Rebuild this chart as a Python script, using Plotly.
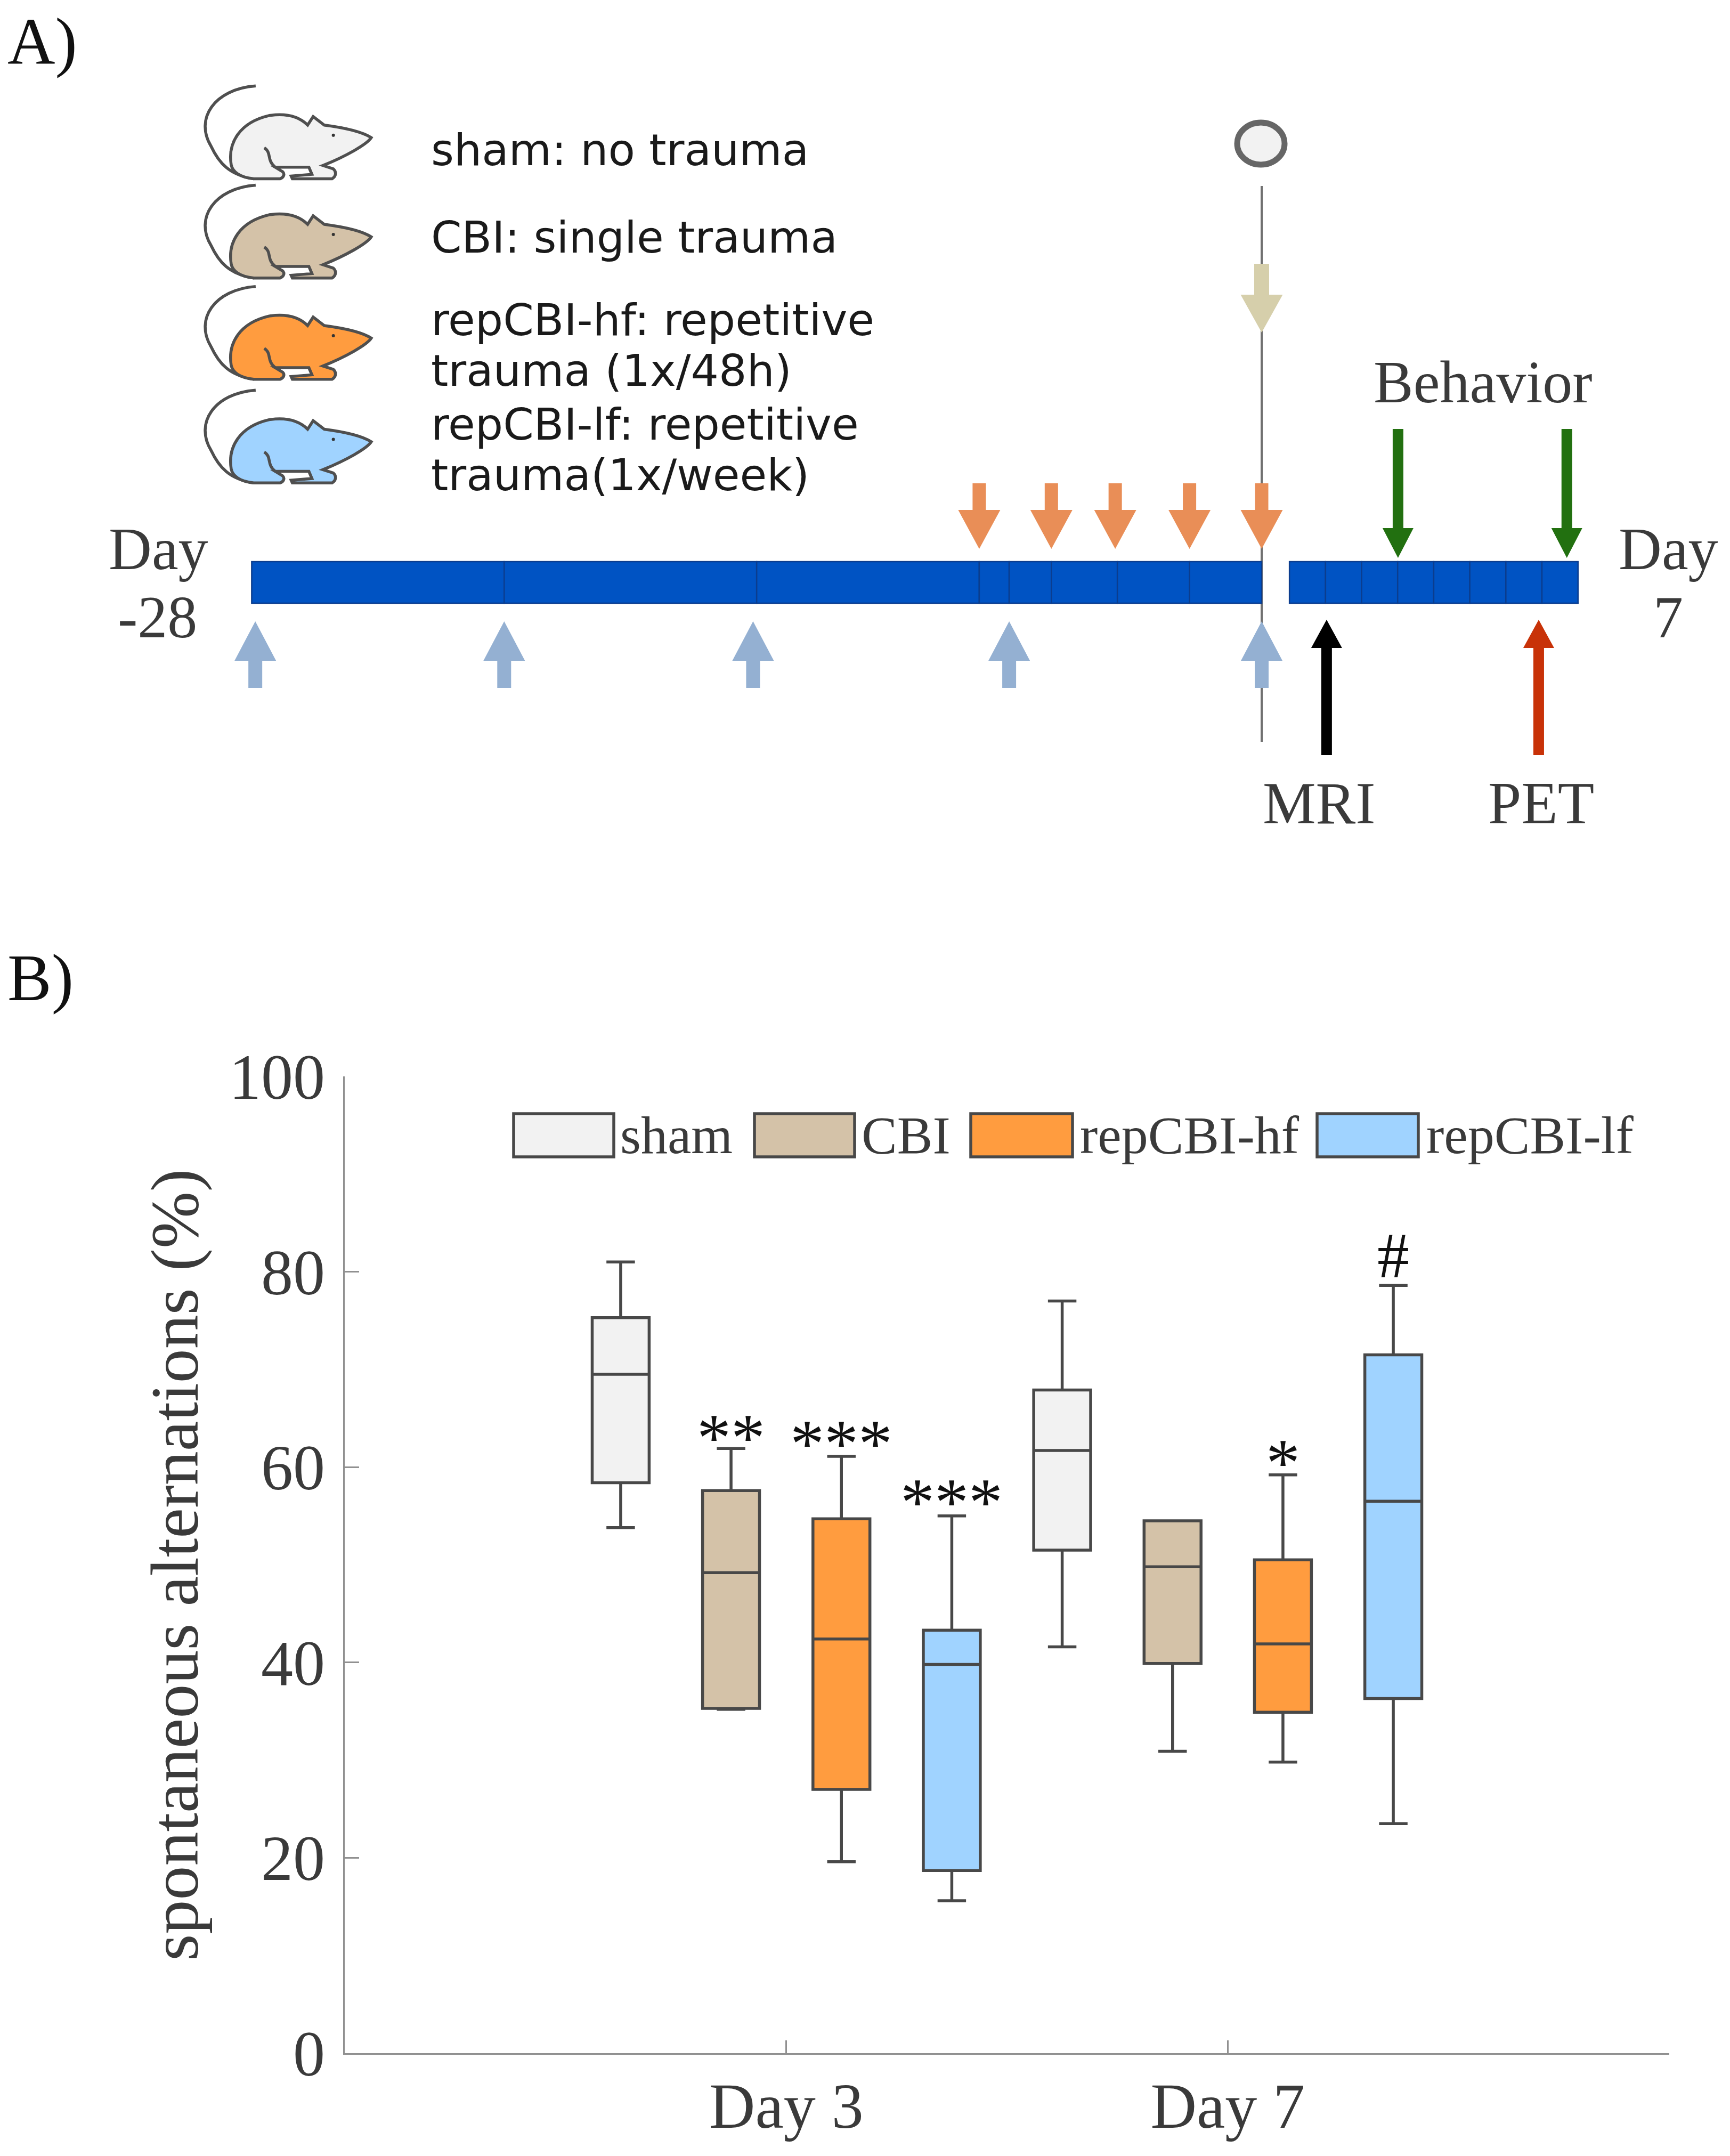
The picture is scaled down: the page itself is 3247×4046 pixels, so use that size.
import plotly.graph_objects as go

# ---------- Panel B data ----------
groups = ["sham", "CBI", "repCBI-hf", "repCBI-lf"]
colors = ["#f2f2f2", "#d4c2a8", "#ff9c3f", "#a0d3ff"]
day_labels = ["Day 3", "Day 7"]
whisker_high = {"sham": [81.0, 77.0], "CBI": [61.9, 54.5], "repCBI-hf": [61.1, 59.2], "repCBI-lf": [55.0, 78.6]}
q3_values = {"sham": [75.3, 67.9], "CBI": [57.6, 54.5], "repCBI-hf": [54.7, 50.5], "repCBI-lf": [43.3, 71.5]}
medians = {"sham": [69.5, 61.7], "CBI": [49.2, 49.8], "repCBI-hf": [42.4, 41.9], "repCBI-lf": [39.8, 56.5]}
q1_values = {"sham": [58.4, 51.5], "CBI": [35.3, 39.9], "repCBI-hf": [27.0, 34.9], "repCBI-lf": [18.7, 36.3]}
whisker_low = {"sham": [53.8, 41.6], "CBI": [35.2, 30.9], "repCBI-hf": [19.6, 29.8], "repCBI-lf": [15.6, 23.5]}
offsets = [-0.375, -0.125, 0.125, 0.375]

sig_labels = ["**", "***", "***", "*", "#"]
sig_x = [0.875, 1.125, 1.375, 2.125, 2.375]
sig_y = [63.9, 63.3, 57.3, 61.3, 81.2]

# ---------- Panel A timeline data (x in days, day 0 = trauma end) ----------
left_edges = [-28, -21, -14, -7.83, -7, -5.83, -4, -2, 0]
right_start = 0.77
right_days = 8
orange_days = [-7.83, -5.83, -4.06, -2.0, 0.0]
blue_days = [-27.9, -21, -14.1, -7, 0.0]
green_days = [3.78, 8.46]
mri_day = [1.8]
pet_day = [7.68]
beige_day = [0.0]

DARK = "#3a3a3a"
SERIF = "Liberation Serif"
SANS = "DejaVu Sans"

def X(px):
    return (px - 2368) / 67.7

fig = go.Figure()

# Panel B boxes
for g, c, in zip(groups, colors):
    i = groups.index(g)
    for d in range(2):
        fig.add_trace(go.Box(
            x=[d + 1 + offsets[i]], q1=[q1_values[g][d]], median=[medians[g][d]], q3=[q3_values[g][d]],
            lowerfence=[whisker_low[g][d]], upperfence=[whisker_high[g][d]],
            width=0.129, whiskerwidth=0.5, fillcolor=c, name=f"{g} {day_labels[d]}",
            line=dict(color="#484848", width=5.5), showlegend=False, boxpoints=False,
            xaxis="x", yaxis="y"))

# Panel A timeline bars
seg_start = left_edges[:-1] + [right_start + k for k in range(right_days)]
seg_len = [b - a for a, b in zip(left_edges[:-1], left_edges[1:])] + [1.0] * right_days
fig.add_trace(go.Bar(
    y=[1093] * len(seg_start), x=seg_len, base=seg_start, orientation="h", width=78,
    marker=dict(color="#0053c3", line=dict(color="#0b3d8e", width=2.5)),
    showlegend=False, xaxis="x2", yaxis="y2", name="timeline"))

shapes = []

def arrow(day, tail, tip, shaft, head, base, color):
    """Vertical block arrow; widths in px, y in image px."""
    s = shaft / 2 / 67.7
    h = head / 2 / 67.7
    path = (f"M {day-s} {tail} L {day+s} {tail} L {day+s} {base} L {day+h} {base} "
            f"L {day} {tip} L {day-h} {base} L {day-s} {base} Z")
    shapes.append(dict(type="path", path=path, fillcolor=color, line=dict(width=0), xref="x2", yref="y2", layer="above"))

# center line and circle
shapes.append(dict(type="line", x0=0, x1=0, y0=349, y1=1392, xref="x2", yref="y2",
                   line=dict(color="#707070", width=4), layer="below"))
shapes.append(dict(type="circle", x0=X(2322), x1=X(2411), y0=230, y1=309, xref="x2", yref="y2",
                   fillcolor="#f2f2f2", line=dict(color="#666666", width=11)))

for d in beige_day:
    arrow(d, 495, 624, 28, 79, 553, "#d6cfab")
for d in orange_days:
    arrow(d, 907, 1030, 25, 79, 957, "#e98e57")
for d in blue_days:
    arrow(d, 1291, 1166, 26, 78, 1240, "#94b0d2")
for d in green_days:
    arrow(d, 805, 1047, 20, 58, 991, "#227010")
for d in mri_day:
    arrow(d, 1417, 1163, 20, 58, 1216, "#000000")
for d in pet_day:
    arrow(d, 1417, 1163, 20, 58, 1216, "#c83208")

# Rats, outline traced in a zoomed frame (sx, sy turn it to image px)
sx, sy = 1800 / 1568, 1000 / 1568

def rat_paths(dy):
    def P(x, y):
        return f"{X(x*sx)} {(y+dy)*sy}"
    def path(seq):
        out = []
        for cmd, pts in seq:
            out.append(cmd + " " + " ".join(P(*p) for p in pts))
        return " ".join(out)
    body = path([
        ("M", [(378, 485)]),
        ("C", [(372, 420), (392, 360), (440, 340)]),
        ("C", [(470, 332), (490, 345), (503, 368)]),
        ("L", [(512, 343)]), ("L", [(530, 368)]),
        ("C", [(560, 375), (590, 385), (607, 405)]),
        ("C", [(600, 425), (565, 460), (528, 487)]),
        ("L", [(545, 497)]),
        ("C", [(550, 505), (550, 518), (543, 526)]),
        ("L", [(478, 526)]), ("L", [(476, 518)]), ("L", [(510, 513)]),
        ("L", [(505, 492)]), ("L", [(450, 492)]), ("L", [(462, 505)]),
        ("C", [(466, 512), (464, 522), (458, 526)]),
        ("L", [(415, 526)]),
        ("C", [(392, 522), (380, 505), (378, 485)]),
        ("Z", []),
    ])
    tail = path([
        ("M", [(418, 253)]),
        ("C", [(350, 262), (318, 350), (345, 430)]),
        ("C", [(358, 480), (375, 515), (415, 526)]),
    ])
    leg = path([
        ("M", [(432, 435)]),
        ("C", [(445, 450), (435, 470), (450, 492)]),
    ])
    return body, tail, leg

rat_dy = [0, 292, 590, 895]
RAT = "#4f4f4f"
for c, dy in zip(colors, rat_dy):
    body, tail, leg = rat_paths(dy)
    shapes.append(dict(type="path", path=tail, line=dict(color=RAT, width=5.5), xref="x2", yref="y2"))
    shapes.append(dict(type="path", path=body, fillcolor=c, line=dict(color=RAT, width=5.5), xref="x2", yref="y2"))
    shapes.append(dict(type="path", path=leg, line=dict(color=RAT, width=5.5), xref="x2", yref="y2"))
    shapes.append(dict(type="circle", x0=X(545*sx-3), x1=X(545*sx+3), y0=(398+dy)*sy-3, y1=(398+dy)*sy+3,
                       fillcolor="#333333", line=dict(width=0), xref="x2", yref="y2"))

# Legend swatches
swatch_px = [(964, 1152), (1416, 1604), (1822, 2013), (2472, 2662)]
label_px = [1162, 1615, 2025, 2675]
for (a, b), c in zip(swatch_px, colors):
    shapes.append(dict(type="rect", x0=X(a), x1=X(b), y0=2090, y1=2171, xref="x2", yref="y2",
                       fillcolor=c, line=dict(color="#484848", width=5.5)))

annotations = []

def text(t, px, py, size, color=DARK, font=SERIF, anchor="center"):
    annotations.append(dict(text=t, x=X(px), y=py, xref="x2", yref="y2", showarrow=False,
                            font=dict(family=font, size=size, color=color), xanchor=anchor, yanchor="middle"))

text("A)", 12, 78, 124, "#111111", anchor="left")
text("B)", 12, 1835, 124, "#111111", anchor="left")
for g, p in zip(groups, label_px):
    text(g, p, 2130, 100, anchor="left")
for t, py in [("sham: no trauma", 281), ("CBI: single trauma", 445), ("repCBI-hf: repetitive", 600),
              ("trauma (1x/48h)", 695), ("repCBI-lf: repetitive", 796), ("trauma(1x/week)", 891)]:
    text(t, 807, py, 82.5, "#1a1a1a", SANS, "left")
text("Day", 297, 1030, 112)
text("-28", 295, 1158, 112)
text("Day", 3131, 1030, 112)
text("7", 3131, 1158, 112)
text("Behavior", 2783, 717, 112)
text("MRI", 2476, 1507, 112)
text("PET", 2892, 1507, 112)

# significance marks in data coords of panel B
for s, x, y in zip(sig_labels, sig_x, sig_y):
    annotations.append(dict(text=s, x=x, y=y, xref="x", yref="y", showarrow=False,
                            font=dict(family=SERIF, size=128 if s != "#" else 120, color="#111111"),
                            xanchor="center", yanchor="middle", yshift=-16 if s != "#" else 8))

fig.update_layout(
    template="none",
    width=3247, height=4046, autosize=False,
    margin=dict(l=0, r=0, t=0, b=0, pad=0), paper_bgcolor="white", plot_bgcolor="rgba(0,0,0,0)",
    boxmode="overlay", showlegend=False, shapes=shapes, annotations=annotations,
    xaxis=dict(domain=[647/3247, 3133/3247], range=[0, 3], tickvals=[1, 2], ticktext=day_labels,
               ticks="inside", ticklen=24, tickwidth=3, tickcolor="#909090", showgrid=False, zeroline=False,
               showline=True, linecolor="#909090", linewidth=3, ticklabelstandoff=-7, automargin=False,
               tickfont=dict(family=SERIF, size=120, color=DARK), anchor="y"),
    yaxis=dict(domain=[1-3853/4046, 1-2020/4046], range=[0, 100], tickvals=[0, 20, 40, 60, 80, 100],
               ticks="inside", ticklen=27, tickwidth=3, tickcolor="#909090", showgrid=False, zeroline=False,
               showline=True, linecolor="#909090", linewidth=3, ticklabelstandoff=10, automargin=False,
               tickfont=dict(family=SERIF, size=120, color=DARK), anchor="x",
               title=dict(text="spontaneous alternations (%)", standoff=16,
                          font=dict(family=SERIF, size=128, color=DARK))),
    xaxis2=dict(domain=[0, 1], range=[X(0), X(3247)], visible=False, anchor="y2", fixedrange=True, automargin=False),
    yaxis2=dict(domain=[0, 1], range=[4046, 0], visible=False, anchor="x2", fixedrange=True, automargin=False),
)

fig.write_html("out.html", post_script="document.body.style.margin='0';", config={"displayModeBar": False})
